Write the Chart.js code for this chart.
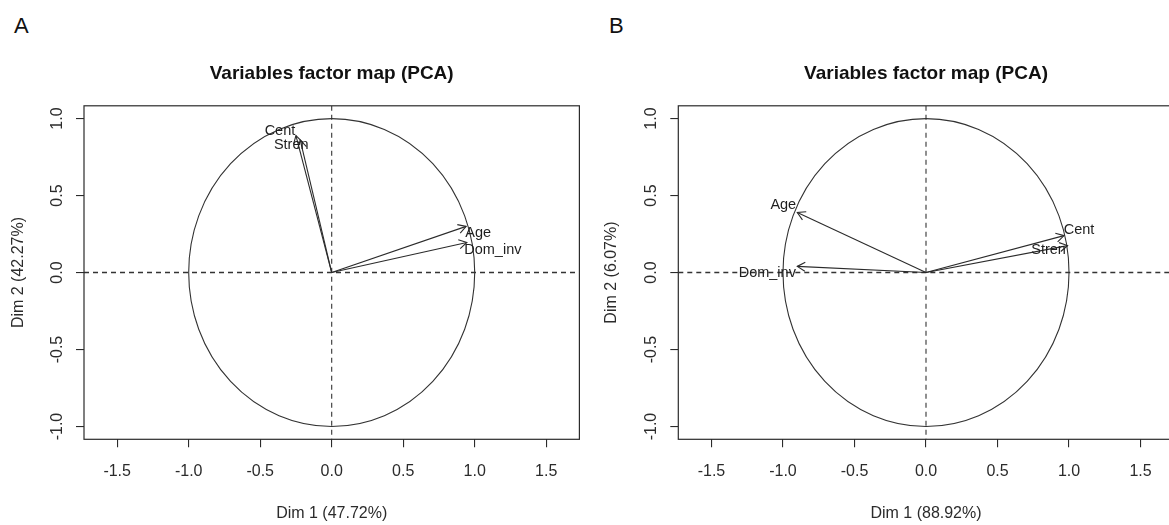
<!DOCTYPE html>
<html>
<head>
<meta charset="utf-8">
<script src="https://cdn.jsdelivr.net/npm/chart.js@4.4.0/dist/chart.umd.min.js"></script>
<style>
  html, body { margin: 0; padding: 0; background: #fff; }
  #page { position: relative; width: 1169px; height: 525px; overflow: hidden; }
  .panel { position: absolute; top: 0; width: 590px; height: 525px; }
  .tag { position: absolute; top: 13px; font: 22px "Liberation Sans", Arial, sans-serif; color: #111; }
</style>
</head>
<body>
<div id="page">
  <div class="tag" style="left:14px">A</div>
  <div class="tag" style="left:609px">B</div>
  <div class="panel" style="left:0"><canvas id="chartA"></canvas></div>
  <div class="panel" style="left:590px"><canvas id="chartB"></canvas></div>
</div>
<script>
// variable coordinates on the first two dimensions
const varNames = ["Cent", "Stren", "Age", "Dom_inv"];
const dim1A = [-0.25, -0.22, 0.94, 0.945];
const dim2A = [0.89, 0.86, 0.30, 0.195];
const dim1B = [0.965, 0.99, -0.90, -0.90];
const dim2B = [0.24, 0.175, 0.39, 0.04];

const xTicks = [-1.5, -1.0, -0.5, 0.0, 0.5, 1.0, 1.5];
const yTicks = [-1.0, -0.5, 0.0, 0.5, 1.0];
const chartTitle = "Variables factor map (PCA)";
const xTitles = ["Dim 1 (47.72%)", "Dim 1 (88.92%)"];
const yTitles = ["Dim 2 (42.27%)", "Dim 2 (6.07%)"];

const FONT = '"Liberation Sans", Arial, sans-serif';
const INK = '#2b2b2b';

// circle, dashed axes, arrow heads, labels and the box
const pcaDecor = {
  id: 'pcaDecor',
  beforeDatasetsDraw(chart) {
    const {ctx, chartArea: a, scales: {x, y}} = chart;
    const cx = x.getPixelForValue(0), cy = y.getPixelForValue(0);
    const rx = x.getPixelForValue(1) - cx, ry = cy - y.getPixelForValue(1);
    ctx.save();
    ctx.beginPath();
    ctx.rect(a.left, a.top, a.width, a.height);
    ctx.clip();
    ctx.strokeStyle = '#333';
    ctx.lineWidth = 1.1;
    ctx.beginPath();
    ctx.ellipse(cx, cy, rx, ry, 0, 0, 2 * Math.PI);
    ctx.stroke();
    ctx.setLineDash([5, 4]);
    ctx.lineWidth = 1.6;
    ctx.beginPath();
    ctx.moveTo(a.left, cy);
    ctx.lineTo(a.right, cy);
    ctx.stroke();
    ctx.lineWidth = 1.1;
    ctx.beginPath();
    ctx.moveTo(cx, a.top);
    ctx.lineTo(cx, a.bottom);
    ctx.stroke();
    ctx.restore();
  },
  afterDatasetsDraw(chart, args, opts) {
    const {ctx, chartArea: a} = chart;
    ctx.save();
    ctx.strokeStyle = INK;
    ctx.fillStyle = '#1e1e1e';
    ctx.lineWidth = 1.1;
    ctx.font = '14.5px ' + FONT;
    ctx.textAlign = 'center';
    ctx.textBaseline = 'middle';
    chart.data.datasets.forEach((ds, i) => {
      const pts = chart.getDatasetMeta(i).data;
      const p0 = pts[0], p1 = pts[1];
      const ang = Math.atan2(p1.y - p0.y, p1.x - p0.x);
      const len = 9, spread = Math.PI / 6;
      ctx.beginPath();
      ctx.moveTo(p1.x - len * Math.cos(ang - spread), p1.y - len * Math.sin(ang - spread));
      ctx.lineTo(p1.x, p1.y);
      ctx.lineTo(p1.x - len * Math.cos(ang + spread), p1.y - len * Math.sin(ang + spread));
      ctx.stroke();
      const s = opts.shifts[i];
      ctx.fillText(ds.label, p1.x + s[0], p1.y + s[1]);
    });
    ctx.lineWidth = 1.2;
    ctx.strokeRect(a.left, a.top, a.width, a.height);
    ctx.restore();
  }
};

function drawMap(id, dim1, dim2, xTitle, yTitle, o) {
  const datasets = varNames.map((name, i) => ({
    label: name,
    data: [{x: 0, y: 0}, {x: dim1[i], y: dim2[i]}],
    showLine: true,
    borderColor: INK,
    borderWidth: 1.1,
    pointRadius: 0,
    fill: false
  }));
  const tickFont = {family: FONT, size: 16};
  return new Chart(document.getElementById(id), {
    type: 'scatter',
    data: {datasets},
    options: {
      responsive: true,
      maintainAspectRatio: false,
      animation: false,
      layout: {padding: {left: 0, right: o.rightPad, top: 0, bottom: 0}},
      plugins: {
        legend: {display: false},
        tooltip: {enabled: false},
        title: {
          display: true,
          text: chartTitle,
          fullSize: false,
          color: '#111',
          font: {family: FONT, size: 19, weight: 'bold'},
          padding: {top: 62, bottom: 21}
        },
        pcaDecor: {shifts: o.shifts}
      },
      scales: {
        x: {
          type: 'linear',
          min: -1.732,
          max: 1.732,
          afterBuildTicks: s => { s.ticks = xTicks.map(v => ({value: v})); },
          afterFit: s => { s.height = 85.7; },
          border: {display: false},
          grid: {display: true, drawOnChartArea: false, drawTicks: true, tickLength: 8, color: INK, lineWidth: 1.1},
          ticks: {font: tickFont, color: INK, padding: 15, maxRotation: 0, callback: v => v.toFixed(1)},
          title: {display: true, text: xTitle, color: INK, font: tickFont, padding: {top: 0, bottom: 2}}
        },
        y: {
          type: 'linear',
          min: -1.083,
          max: 1.083,
          afterBuildTicks: s => { s.ticks = yTicks.map(v => ({value: v})); },
          afterFit: s => { s.width = o.yWidth; },
          border: {display: false},
          grid: {display: true, drawOnChartArea: false, drawTicks: true, tickLength: 8, color: INK, lineWidth: 1.1},
          ticks: {font: tickFont, color: INK, padding: 5, minRotation: 90, maxRotation: 90,
                  crossAlign: 'center', callback: v => v.toFixed(1)},
          title: {display: true, text: yTitle, color: INK, font: tickFont, padding: {top: o.yTitlePad, bottom: 0}}
        }
      }
    },
    plugins: [pcaDecor]
  });
}

drawMap('chartA', dim1A, dim2A, xTitles[0], yTitles[0], {
  yWidth: 84, rightPad: 10.6, yTitlePad: 8.7,
  shifts: [[-16, -5], [-9, 5], [12, 7], [26, 7]]
});
drawMap('chartB', dim1B, dim2B, xTitles[1], yTitles[1], {
  yWidth: 88.3, rightPad: 6.3, yTitlePad: 12.4,
  shifts: [[15, -6], [-19, 4], [-14, -8], [-30, 7]]
});
</script>
</body>
</html>
